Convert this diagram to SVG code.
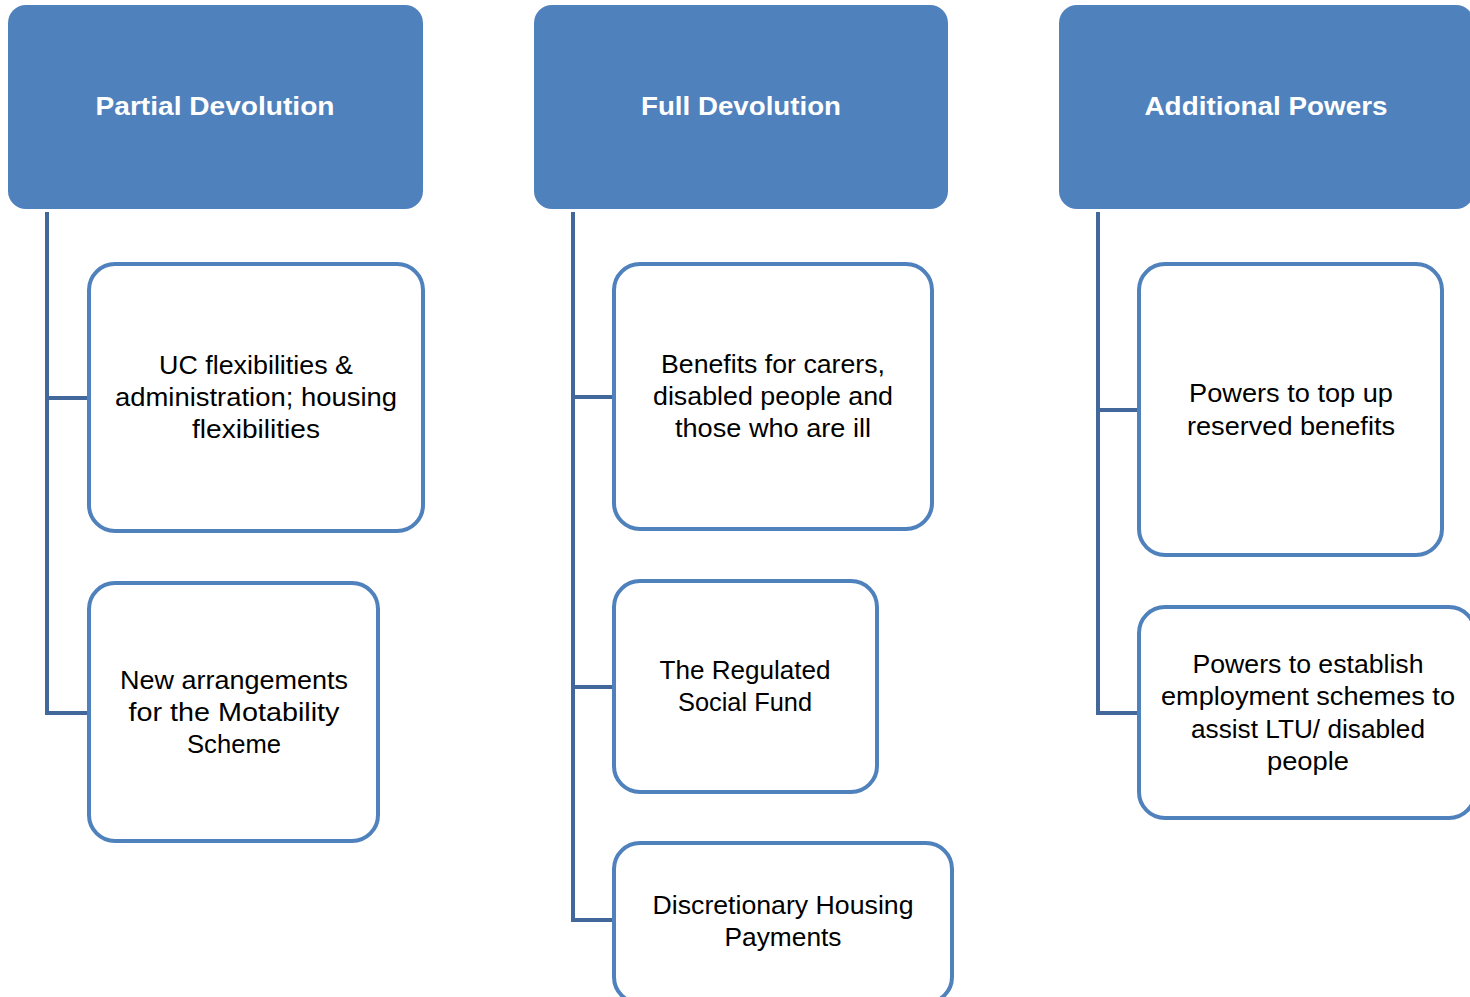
<svg xmlns="http://www.w3.org/2000/svg" width="1470" height="997" viewBox="0 0 1470 997">
<style>
.hdr{fill:#4F81BD;stroke:none}
.box{fill:#FFFFFF;stroke:#4F81BD;stroke-width:4}
.conn{fill:none;stroke:#41679B;stroke-width:4;stroke-linejoin:miter}
.ht{font-family:"Liberation Sans",Arial,sans-serif;font-weight:bold;font-size:26px;fill:#FFFFFF;text-anchor:middle}
.bt{font-family:"Liberation Sans",Arial,sans-serif;font-size:25px;fill:#000000;text-anchor:middle}
</style>
<rect width="1470" height="997" fill="#FFFFFF"/>
<g id="connectors">
<path class="conn" d="M47,212 V713 H89 M47,398 H89"/>
<path class="conn" d="M573,212 V920 H614 M573,397 H614 M573,687 H614"/>
<path class="conn" d="M1098,212 V713 H1139 M1098,410 H1139"/>
</g>
<g id="partial-devolution">
<rect class="hdr" x="8" y="5" width="415" height="204" rx="18"/>
<text class="ht" x="215" y="115" textLength="239" lengthAdjust="spacingAndGlyphs">Partial Devolution</text>
</g>
<g id="uc-flexibilities">
<rect class="box" x="89" y="264" width="334" height="267" rx="26"/>
<text class="bt" x="256" y="374" textLength="194" lengthAdjust="spacingAndGlyphs">UC flexibilities &amp;</text>
<text class="bt" x="256" y="406" textLength="282" lengthAdjust="spacingAndGlyphs">administration; housing</text>
<text class="bt" x="256" y="438" textLength="128" lengthAdjust="spacingAndGlyphs">flexibilities</text>
</g>
<g id="motability">
<rect class="box" x="89" y="583" width="289" height="258" rx="26"/>
<text class="bt" x="234" y="689" textLength="228" lengthAdjust="spacingAndGlyphs">New arrangements</text>
<text class="bt" x="234" y="721" textLength="211" lengthAdjust="spacingAndGlyphs">for the Motability</text>
<text class="bt" x="234" y="753" textLength="94" lengthAdjust="spacingAndGlyphs">Scheme</text>
</g>
<g id="full-devolution">
<rect class="hdr" x="534" y="5" width="414" height="204" rx="18"/>
<text class="ht" x="741" y="115" textLength="200" lengthAdjust="spacingAndGlyphs">Full Devolution</text>
</g>
<g id="benefits-carers">
<rect class="box" x="614" y="264" width="318" height="265" rx="26"/>
<text class="bt" x="773" y="373" textLength="224" lengthAdjust="spacingAndGlyphs">Benefits for carers,</text>
<text class="bt" x="773" y="405" textLength="240" lengthAdjust="spacingAndGlyphs">disabled people and</text>
<text class="bt" x="773" y="437" textLength="196" lengthAdjust="spacingAndGlyphs">those who are ill</text>
</g>
<g id="social-fund">
<rect class="box" x="614" y="581" width="263" height="211" rx="26"/>
<text class="bt" x="745" y="679" textLength="171" lengthAdjust="spacingAndGlyphs">The Regulated</text>
<text class="bt" x="745" y="711" textLength="134" lengthAdjust="spacingAndGlyphs">Social Fund</text>
</g>
<g id="dhp">
<rect class="box" x="614" y="843" width="338" height="160" rx="26"/>
<text class="bt" x="783" y="914" textLength="261" lengthAdjust="spacingAndGlyphs">Discretionary Housing</text>
<text class="bt" x="783" y="946" textLength="117" lengthAdjust="spacingAndGlyphs">Payments</text>
</g>
<g id="additional-powers">
<rect class="hdr" x="1059" y="5" width="415" height="204" rx="18"/>
<text class="ht" x="1266" y="115" textLength="243" lengthAdjust="spacingAndGlyphs">Additional Powers</text>
</g>
<g id="top-up">
<rect class="box" x="1139" y="264" width="303" height="291" rx="26"/>
<text class="bt" x="1291" y="402" textLength="204" lengthAdjust="spacingAndGlyphs">Powers to top up</text>
<text class="bt" x="1291" y="435" textLength="208" lengthAdjust="spacingAndGlyphs">reserved benefits</text>
</g>
<g id="employment-schemes">
<rect class="box" x="1139" y="607" width="336" height="211" rx="26"/>
<text class="bt" x="1308" y="673" textLength="231" lengthAdjust="spacingAndGlyphs">Powers to establish</text>
<text class="bt" x="1308" y="705" textLength="294" lengthAdjust="spacingAndGlyphs">employment schemes to</text>
<text class="bt" x="1308" y="738" textLength="234" lengthAdjust="spacingAndGlyphs">assist LTU/ disabled</text>
<text class="bt" x="1308" y="770" textLength="82" lengthAdjust="spacingAndGlyphs">people</text>
</g>
</svg>
